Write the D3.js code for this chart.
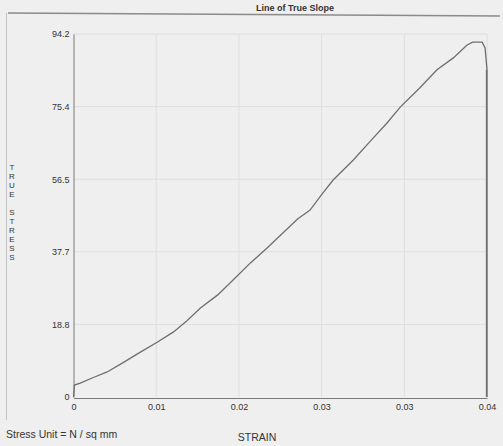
<!DOCTYPE html>
<html>
<head>
<meta charset="utf-8">
<script src="https://cdn.jsdelivr.net/npm/d3@7"></script>
<style>
  html, body { margin: 0; background: #efefef; overflow: hidden; }
  svg { display: block; }
  text { font-family: "Liberation Sans", Arial, sans-serif; fill: #333; }
</style>
</head>
<body>
<svg width="503" height="446"></svg>
<script>
// data (strain, true stress)
const strain = [0, 0.0001, 0.0007, 0.0020, 0.0035, 0.0052, 0.0070, 0.0087, 0.0104, 0.0118, 0.0132,
  0.0150, 0.0167, 0.0184, 0.0201, 0.0218, 0.0233, 0.0246, 0.0258, 0.0270, 0.0291, 0.0308, 0.0326,
  0.0340, 0.0360, 0.0378, 0.0395, 0.0409, 0.0415, 0.0425, 0.0428, 0.0430, 0.0430];
const stress = [0, 3.1, 3.6, 5.0, 6.5, 9.0, 11.7, 14.2, 16.9, 19.8, 23.1,
  26.5, 30.6, 34.8, 38.6, 42.6, 46.2, 48.5, 52.5, 56.3, 61.5, 66.2, 71.1,
  75.3, 80.2, 84.9, 88.0, 91.3, 92.1, 92.1, 90.6, 84.9, 0];
const xTickLabels = ["0", "0.01", "0.02", "0.03", "0.03", "0.04"];
const yTickLabels = ["0", "18.8", "37.7", "56.5", "75.4", "94.2"];
const xMax = 0.043, yMax = 94.2;

const svg = d3.select('svg');
const margin = { top: 34, left: 73.5, right: 16, bottom: 49 };
const width = +svg.attr('width') - margin.left - margin.right;
const height = +svg.attr('height') - margin.top - margin.bottom;

// paper + outer frame
svg.append("rect").attr("width", 503).attr("height", 446).attr("fill", "#efefef");
svg.append("line").attr("x1", 8).attr("x2", 500).attr("y1", 13).attr("y2", 16)
  .attr("stroke", "#8a8a8a").attr("stroke-width", 1.5);
svg.append("line").attr("x1", 6.5).attr("x2", 6.5).attr("y1", 13).attr("y2", 420)
  .attr("stroke", "#c4c4c4");

const g = svg.append("g").attr("transform", `translate(${margin.left}, ${margin.top})`);

const x = d3.scaleLinear().domain([0, xMax]).range([0, width]);
const y = d3.scaleLinear().domain([0, yMax]).range([height, 0]);

const xTicks = xTickLabels.map((d, i) => i * xMax / 5);
const yTicks = yTickLabels.map((d, i) => i * yMax / 5);

// grid
g.selectAll(".vgrid").data(xTicks.slice(1)).enter().append("line")
  .attr("x1", d => x(d)).attr("x2", d => x(d)).attr("y1", 0).attr("y2", height)
  .attr("stroke", "#dedede");
g.selectAll(".hgrid").data(yTicks.slice(1)).enter().append("line")
  .attr("x1", 0).attr("x2", width).attr("y1", d => y(d)).attr("y2", d => y(d))
  .attr("stroke", "#dedede");

// axes
const xAxis = g.append("g").attr("transform", `translate(0,${height + 1})`)
  .call(d3.axisBottom(x).tickValues(xTicks).tickFormat((d, i) => xTickLabels[i]).tickSize(0).tickPadding(6));
const yAxis = g.append("g")
  .call(d3.axisLeft(y).tickValues(yTicks).tickFormat((d, i) => yTickLabels[i]).tickSize(0).tickPadding(4));
[xAxis, yAxis].forEach(a => {
  a.select(".domain").attr("stroke", "#7a7a7a");
  a.selectAll("text").style("font-size", "9px").attr("fill", "#333");
});

// curve
const line = d3.line().x((d, i) => x(strain[i])).y(d => y(d));
g.append("path").datum(stress)
  .attr("fill", "none").attr("stroke", "#6f6f6f").attr("stroke-width", 1.3)
  .attr("d", line);

// vertical drop at fracture, drawn on its own as well
const n = stress.length;
g.append("line")
  .attr("x1", x(strain[n - 2]) - 0.5).attr("x2", x(strain[n - 1]) - 0.5)
  .attr("y1", y(stress[n - 2])).attr("y2", y(stress[n - 1]))
  .attr("stroke", "#6f6f6f").attr("stroke-width", 1.3);

// texts
svg.append("text").attr("x", 295).attr("y", 11).attr("text-anchor", "middle")
  .style("font-size", "9px").style("font-weight", "bold").attr("fill", "#444").text("Line of True Slope");
svg.append("text").attr("x", 257).attr("y", 441).attr("text-anchor", "middle")
  .style("font-size", "10.5px").text("STRAIN");
svg.append("text").attr("x", 6).attr("y", 438)
  .style("font-size", "10.5px").text("Stress Unit  = N / sq mm");

const yTitle = "TRUE STRESS".split("");
svg.append("g").selectAll("text").data(yTitle).enter().append("text")
  .attr("x", 12).attr("y", (d, i) => 170 + i * 9).attr("text-anchor", "middle")
  .style("font-size", "8px").text(d => d);
</script>
</body>
</html>
